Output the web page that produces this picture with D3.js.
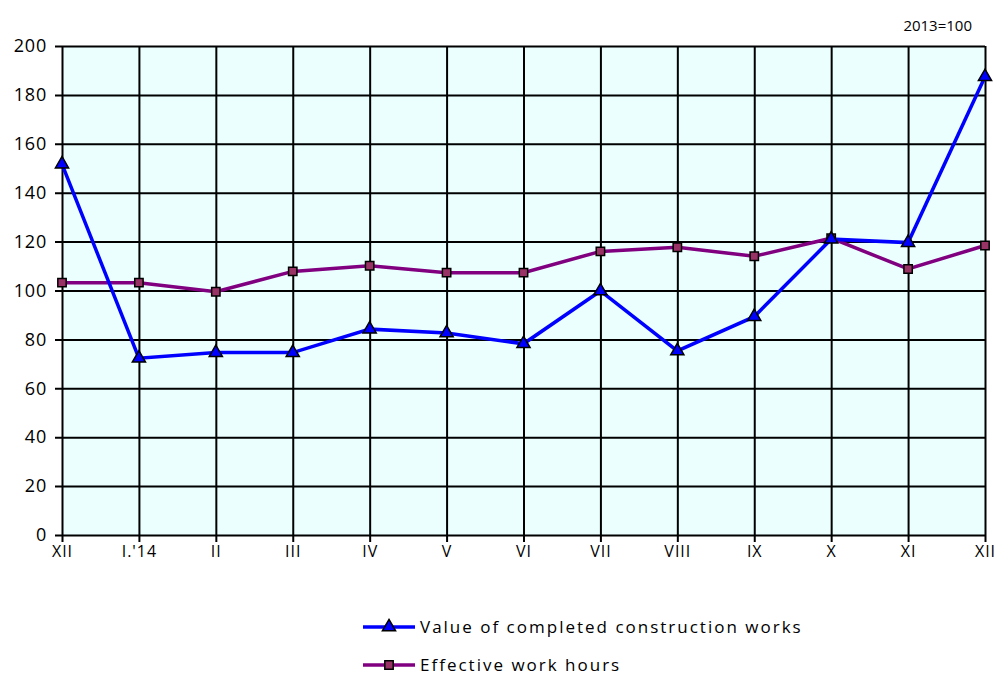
<!DOCTYPE html>
<html>
<head>
<meta charset="utf-8">
<script src="https://cdn.jsdelivr.net/npm/d3@7"></script>
<style>
  body { margin: 0; background: #fff; }
  text { font-family: "Open Sans", "Noto Sans", sans-serif; fill: #000; }
</style>
</head>
<body>
<div id="chart"></div>
<script>
// categories (months) and index values, 2013=100
const months = ["XII", "I.'14", "II", "III", "IV", "V", "VI", "VII", "VIII", "IX", "X", "XI", "XII"];
const constructionValue = [151.7, 72.3, 74.6, 74.6, 84.2, 82.6, 78.2, 99.8, 75.3, 89.3, 121.0, 119.6, 187.4];
const workHours = [103.2, 103.2, 99.5, 107.8, 110.1, 107.3, 107.3, 116.0, 117.7, 114.0, 121.4, 108.8, 118.4];
const yTicks = [0, 20, 40, 60, 80, 100, 120, 140, 160, 180, 200];

const W = 997, H = 675;
const margin = { top: 46, right: 12, bottom: 140, left: 62 };
const width = W - margin.left - margin.right;
const height = H - margin.top - margin.bottom;

const svg = d3.select("#chart").append("svg")
    .attr("width", W)
    .attr("height", H);

// keys use index so the two "XII" are distinct
const x = d3.scalePoint()
    .domain(months.map((m, i) => i))
    .range([0, width]);

const y = d3.scaleLinear()
    .domain([0, 200])
    .range([height, 0]);

const g = svg.append("g")
    .attr("transform", `translate(${margin.left},${margin.top})`);

g.append("rect")
    .attr("width", width)
    .attr("height", height)
    .attr("fill", "#ebffff");

// horizontal grid + y axis
g.append("g")
    .attr("font-size", 18)
    .call(d3.axisLeft(y).tickValues(yTicks).tickSize(-width).tickPadding(15).tickFormat(d3.format("d")))
    .call(a => a.select(".domain").remove())
    .call(a => a.selectAll(".tick line").attr("stroke", "#000").attr("stroke-width", 2).attr("x1", -7))
    .call(a => a.selectAll(".tick text").style("font-size", "18px").style("letter-spacing", "0.8px"));

// vertical grid + x axis
g.append("g")
    .attr("font-size", 16)
    .attr("transform", `translate(0,${height})`)
    .call(d3.axisBottom(x).tickSize(0).tickPadding(11).tickFormat(i => months[i]))
    .call(a => a.select(".domain").remove())
    .call(a => a.selectAll(".tick line")
        .attr("stroke", "#000").attr("stroke-width", 2)
        .attr("y1", -height).attr("y2", 7))
    .call(a => a.selectAll(".tick text").style("font-size", "16px").style("letter-spacing", "1px").attr("dy", "0.71em"));

const line = d3.line().x((d, i) => x(i)).y(d => y(d));

g.append("path")
    .datum(workHours)
    .attr("fill", "none")
    .attr("stroke", "#800080")
    .attr("stroke-width", 3.5)
    .attr("d", line);

g.append("path")
    .datum(constructionValue)
    .attr("fill", "none")
    .attr("stroke", "#0000ff")
    .attr("stroke-width", 3.5)
    .attr("d", line);

const square = d3.symbol().type(d3.symbolSquare).size(70);
const triangle = d3.symbol().type(d3.symbolTriangle).size(75);

g.selectAll(".sq")
    .data(workHours)
    .join("path")
    .attr("class", "sq")
    .attr("transform", (d, i) => `translate(${x(i)},${y(d)})`)
    .attr("d", square)
    .attr("fill", "#993366")
    .attr("stroke", "#000")
    .attr("stroke-width", 1.5);

g.selectAll(".tri")
    .data(constructionValue)
    .join("path")
    .attr("class", "tri")
    .attr("transform", (d, i) => `translate(${x(i)},${y(d)})`)
    .attr("d", triangle)
    .attr("fill", "#0000ff")
    .attr("stroke", "#000")
    .attr("stroke-width", 1.5);

svg.append("text")
    .attr("x", 972)
    .attr("y", 31)
    .attr("text-anchor", "end")
    .style("font-size", "15px")
    .text("2013=100");

// legend
const legendItems = [
    { label: "Value of completed construction works", color: "#0000ff", sym: triangle, fill: "#0000ff" },
    { label: "Effective work hours", color: "#800080", sym: square, fill: "#993366" }
];

const legend = svg.append("g").attr("transform", "translate(363,627)");
legendItems.forEach((it, i) => {
    const row = legend.append("g").attr("transform", `translate(0,${i * 38})`);
    row.append("line")
        .attr("x1", 0).attr("x2", 52)
        .attr("stroke", it.color).attr("stroke-width", 3.5);
    row.append("path")
        .attr("transform", "translate(26,0)")
        .attr("d", it.sym)
        .attr("fill", it.fill)
        .attr("stroke", "#000")
        .attr("stroke-width", 1.5);
    row.append("text")
        .attr("x", 57)
        .attr("y", 6)
        .style("font-size", "17px")
        .style("letter-spacing", "2px")
        .text(it.label);
});
</script>
</body>
</html>
